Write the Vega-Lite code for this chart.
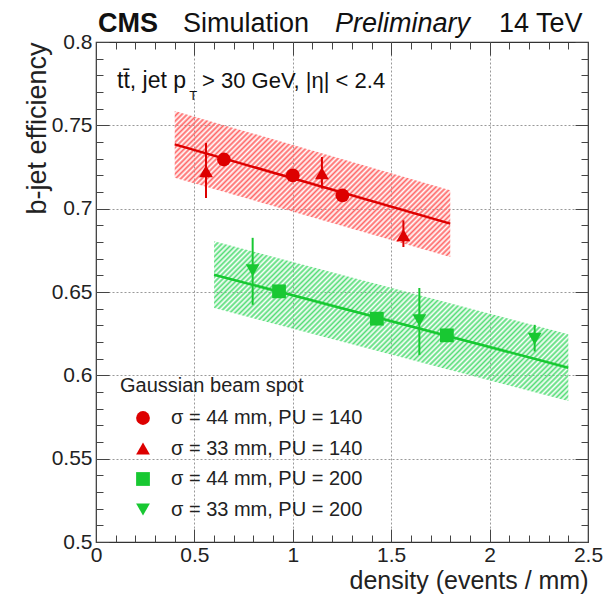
{
"$schema":"https://vega.github.io/schema/vega-lite/v6.json",
"width":492,"height":500,
"autosize":"none",
"padding":{"left":96,"top":42,"right":16,"bottom":53},
"background":"white",
"config":{"font":"Liberation Sans","view":{"stroke":"#333","strokeWidth":1.2},
"axis":{"labelFont":"Liberation Sans","titleFont":"Liberation Sans","labelColor":"#222","titleColor":"#222","tickColor":"#444","tickWidth":1,"labelFontSize":21,"titleFontSize":27,"titleFontWeight":"normal","labelFlush":false,"labelOverlap":false}},
"datasets":{
"pts":[
{"series":"σ = 44 mm, PU = 140","pu":140,"density":0.65,"eff":0.7295},
{"series":"σ = 44 mm, PU = 140","pu":140,"density":1.0,"eff":0.720},
{"series":"σ = 44 mm, PU = 140","pu":140,"density":1.252,"eff":0.708},
{"series":"σ = 33 mm, PU = 140","pu":140,"density":0.559,"eff":0.7225,"lo":0.7064,"hi":0.7394},
{"series":"σ = 33 mm, PU = 140","pu":140,"density":1.148,"eff":0.7212,"lo":0.712,"hi":0.731},
{"series":"σ = 33 mm, PU = 140","pu":140,"density":1.562,"eff":0.684,"lo":0.677,"hi":0.693},
{"series":"σ = 44 mm, PU = 200","pu":200,"density":0.93,"eff":0.6504},
{"series":"σ = 44 mm, PU = 200","pu":200,"density":1.427,"eff":0.634},
{"series":"σ = 44 mm, PU = 200","pu":200,"density":1.783,"eff":0.624},
{"series":"σ = 33 mm, PU = 200","pu":200,"density":0.796,"eff":0.663,"lo":0.6423,"hi":0.6825},
{"series":"σ = 33 mm, PU = 200","pu":200,"density":1.643,"eff":0.633,"lo":0.6122,"hi":0.6524},
{"series":"σ = 33 mm, PU = 200","pu":200,"density":2.229,"eff":0.622,"lo":0.6143,"hi":0.6303}
],
"fits":[
{"fit":"PU140","density":0.4,"eff":0.7386,"lo":0.7186,"hi":0.7586},
{"fit":"PU140","density":1.8,"eff":0.691,"lo":0.671,"hi":0.711},
{"fit":"PU200","density":0.6,"eff":0.6604,"lo":0.6404,"hi":0.6804},
{"fit":"PU200","density":2.4,"eff":0.6046,"lo":0.5846,"hi":0.6246}
]
},
"resolve":{"axis":{"x":"independent","y":"independent"}},
"layer":[
{"data":{"name":"fits"},"transform":[{"filter":"datum.fit === 'PU140'"}],
"mark":{"type":"area","stroke":null,"fillOpacity":1,"fill":{"gradient":"linear","x1":0,"y1":0,"x2":1.1945,"y2":0.633,"stops":[
{"offset":0,"color":"#f66"},{"offset":0.00625,"color":"#f660"},{"offset":0.0125,"color":"#f66"},{"offset":0.01875,"color":"#f660"},{"offset":0.025,"color":"#f66"},{"offset":0.03125,"color":"#f660"},{"offset":0.0375,"color":"#f66"},{"offset":0.04375,"color":"#f660"},{"offset":0.05,"color":"#f66"},{"offset":0.05625,"color":"#f660"},{"offset":0.0625,"color":"#f66"},{"offset":0.06875,"color":"#f660"},{"offset":0.075,"color":"#f66"},{"offset":0.08125,"color":"#f660"},{"offset":0.0875,"color":"#f66"},{"offset":0.09375,"color":"#f660"},
{"offset":0.1,"color":"#f66"},{"offset":0.10625,"color":"#f660"},{"offset":0.1125,"color":"#f66"},{"offset":0.11875,"color":"#f660"},{"offset":0.125,"color":"#f66"},{"offset":0.13125,"color":"#f660"},{"offset":0.1375,"color":"#f66"},{"offset":0.14375,"color":"#f660"},{"offset":0.15,"color":"#f66"},{"offset":0.15625,"color":"#f660"},{"offset":0.1625,"color":"#f66"},{"offset":0.16875,"color":"#f660"},{"offset":0.175,"color":"#f66"},{"offset":0.18125,"color":"#f660"},{"offset":0.1875,"color":"#f66"},{"offset":0.19375,"color":"#f660"},
{"offset":0.2,"color":"#f66"},{"offset":0.20625,"color":"#f660"},{"offset":0.2125,"color":"#f66"},{"offset":0.21875,"color":"#f660"},{"offset":0.225,"color":"#f66"},{"offset":0.23125,"color":"#f660"},{"offset":0.2375,"color":"#f66"},{"offset":0.24375,"color":"#f660"},{"offset":0.25,"color":"#f66"},{"offset":0.25625,"color":"#f660"},{"offset":0.2625,"color":"#f66"},{"offset":0.26875,"color":"#f660"},{"offset":0.275,"color":"#f66"},{"offset":0.28125,"color":"#f660"},{"offset":0.2875,"color":"#f66"},{"offset":0.29375,"color":"#f660"},
{"offset":0.3,"color":"#f66"},{"offset":0.30625,"color":"#f660"},{"offset":0.3125,"color":"#f66"},{"offset":0.31875,"color":"#f660"},{"offset":0.325,"color":"#f66"},{"offset":0.33125,"color":"#f660"},{"offset":0.3375,"color":"#f66"},{"offset":0.34375,"color":"#f660"},{"offset":0.35,"color":"#f66"},{"offset":0.35625,"color":"#f660"},{"offset":0.3625,"color":"#f66"},{"offset":0.36875,"color":"#f660"},{"offset":0.375,"color":"#f66"},{"offset":0.38125,"color":"#f660"},{"offset":0.3875,"color":"#f66"},{"offset":0.39375,"color":"#f660"},
{"offset":0.4,"color":"#f66"},{"offset":0.40625,"color":"#f660"},{"offset":0.4125,"color":"#f66"},{"offset":0.41875,"color":"#f660"},{"offset":0.425,"color":"#f66"},{"offset":0.43125,"color":"#f660"},{"offset":0.4375,"color":"#f66"},{"offset":0.44375,"color":"#f660"},{"offset":0.45,"color":"#f66"},{"offset":0.45625,"color":"#f660"},{"offset":0.4625,"color":"#f66"},{"offset":0.46875,"color":"#f660"},{"offset":0.475,"color":"#f66"},{"offset":0.48125,"color":"#f660"},{"offset":0.4875,"color":"#f66"},{"offset":0.49375,"color":"#f660"},
{"offset":0.5,"color":"#f66"},{"offset":0.50625,"color":"#f660"},{"offset":0.5125,"color":"#f66"},{"offset":0.51875,"color":"#f660"},{"offset":0.525,"color":"#f66"},{"offset":0.53125,"color":"#f660"},{"offset":0.5375,"color":"#f66"},{"offset":0.54375,"color":"#f660"},{"offset":0.55,"color":"#f66"},{"offset":0.55625,"color":"#f660"},{"offset":0.5625,"color":"#f66"},{"offset":0.56875,"color":"#f660"},{"offset":0.575,"color":"#f66"},{"offset":0.58125,"color":"#f660"},{"offset":0.5875,"color":"#f66"},{"offset":0.59375,"color":"#f660"},
{"offset":0.6,"color":"#f66"},{"offset":0.60625,"color":"#f660"},{"offset":0.6125,"color":"#f66"},{"offset":0.61875,"color":"#f660"},{"offset":0.625,"color":"#f66"},{"offset":0.63125,"color":"#f660"},{"offset":0.6375,"color":"#f66"},{"offset":0.64375,"color":"#f660"},{"offset":0.65,"color":"#f66"},{"offset":0.65625,"color":"#f660"},{"offset":0.6625,"color":"#f66"},{"offset":0.66875,"color":"#f660"},{"offset":0.675,"color":"#f66"},{"offset":0.68125,"color":"#f660"},{"offset":0.6875,"color":"#f66"},{"offset":0.69375,"color":"#f660"},
{"offset":0.7,"color":"#f66"},{"offset":0.70625,"color":"#f660"},{"offset":0.7125,"color":"#f66"},{"offset":0.71875,"color":"#f660"},{"offset":0.725,"color":"#f66"},{"offset":0.73125,"color":"#f660"},{"offset":0.7375,"color":"#f66"},{"offset":0.74375,"color":"#f660"},{"offset":0.75,"color":"#f66"},{"offset":0.75625,"color":"#f660"},{"offset":0.7625,"color":"#f66"},{"offset":0.76875,"color":"#f660"},{"offset":0.775,"color":"#f66"},{"offset":0.78125,"color":"#f660"},{"offset":0.7875,"color":"#f66"},{"offset":0.79375,"color":"#f660"},
{"offset":0.8,"color":"#f66"},{"offset":0.80625,"color":"#f660"},{"offset":0.8125,"color":"#f66"},{"offset":0.81875,"color":"#f660"},{"offset":0.825,"color":"#f66"},{"offset":0.83125,"color":"#f660"},{"offset":0.8375,"color":"#f66"},{"offset":0.84375,"color":"#f660"},{"offset":0.85,"color":"#f66"},{"offset":0.85625,"color":"#f660"},{"offset":0.8625,"color":"#f66"},{"offset":0.86875,"color":"#f660"},{"offset":0.875,"color":"#f66"},{"offset":0.88125,"color":"#f660"},{"offset":0.8875,"color":"#f66"},{"offset":0.89375,"color":"#f660"},
{"offset":0.9,"color":"#f66"},{"offset":0.90625,"color":"#f660"},{"offset":0.9125,"color":"#f66"},{"offset":0.91875,"color":"#f660"},{"offset":0.925,"color":"#f66"},{"offset":0.93125,"color":"#f660"},{"offset":0.9375,"color":"#f66"},{"offset":0.94375,"color":"#f660"},{"offset":0.95,"color":"#f66"},{"offset":0.95625,"color":"#f660"},{"offset":0.9625,"color":"#f66"},{"offset":0.96875,"color":"#f660"},{"offset":0.975,"color":"#f66"},{"offset":0.98125,"color":"#f660"},{"offset":0.9875,"color":"#f66"},{"offset":0.99375,"color":"#f660"},
{"offset":1,"color":"#f66"}]}},
"encoding":{
"x":{"field":"density","type":"quantitative","scale":{"domain":[0,2.5],"nice":false,"zero":false},"axis":{"orient":"bottom","values":[0,0.5,1,1.5,2,2.5],"format":"~g","ticks":false,"domain":false,"grid":false,"labelPadding":2,"title":"density (events / mm)","titleFontSize":25,"titleAnchor":"end","titlePadding":3}},
"y":{"field":"lo","type":"quantitative","scale":{"domain":[0.5,0.8],"nice":false,"zero":false},"axis":{"orient":"left","values":[0.5,0.55,0.6,0.65,0.7,0.75,0.8],"format":"~g","ticks":false,"domain":false,"grid":false,"labelPadding":4,"title":"b-jet efficiency","titleAnchor":"end","titlePadding":0}},
"y2":{"field":"hi"}}},
{"data":{"name":"fits"},"transform":[{"filter":"datum.fit === 'PU200'"}],
"mark":{"type":"area","stroke":null,"fillOpacity":1,"fill":{"gradient":"linear","x1":0,"y1":0,"x2":1.2058,"y2":0.5438,"stops":[
{"offset":0,"color":"#5d7"},{"offset":0.005,"color":"#5d70"},{"offset":0.01,"color":"#5d7"},{"offset":0.015,"color":"#5d70"},{"offset":0.02,"color":"#5d7"},{"offset":0.025,"color":"#5d70"},{"offset":0.03,"color":"#5d7"},{"offset":0.035,"color":"#5d70"},{"offset":0.04,"color":"#5d7"},{"offset":0.045,"color":"#5d70"},{"offset":0.05,"color":"#5d7"},{"offset":0.055,"color":"#5d70"},{"offset":0.06,"color":"#5d7"},{"offset":0.065,"color":"#5d70"},{"offset":0.07,"color":"#5d7"},{"offset":0.075,"color":"#5d70"},{"offset":0.08,"color":"#5d7"},{"offset":0.085,"color":"#5d70"},{"offset":0.09,"color":"#5d7"},{"offset":0.095,"color":"#5d70"},
{"offset":0.1,"color":"#5d7"},{"offset":0.105,"color":"#5d70"},{"offset":0.11,"color":"#5d7"},{"offset":0.115,"color":"#5d70"},{"offset":0.12,"color":"#5d7"},{"offset":0.125,"color":"#5d70"},{"offset":0.13,"color":"#5d7"},{"offset":0.135,"color":"#5d70"},{"offset":0.14,"color":"#5d7"},{"offset":0.145,"color":"#5d70"},{"offset":0.15,"color":"#5d7"},{"offset":0.155,"color":"#5d70"},{"offset":0.16,"color":"#5d7"},{"offset":0.165,"color":"#5d70"},{"offset":0.17,"color":"#5d7"},{"offset":0.175,"color":"#5d70"},{"offset":0.18,"color":"#5d7"},{"offset":0.185,"color":"#5d70"},{"offset":0.19,"color":"#5d7"},{"offset":0.195,"color":"#5d70"},
{"offset":0.2,"color":"#5d7"},{"offset":0.205,"color":"#5d70"},{"offset":0.21,"color":"#5d7"},{"offset":0.215,"color":"#5d70"},{"offset":0.22,"color":"#5d7"},{"offset":0.225,"color":"#5d70"},{"offset":0.23,"color":"#5d7"},{"offset":0.235,"color":"#5d70"},{"offset":0.24,"color":"#5d7"},{"offset":0.245,"color":"#5d70"},{"offset":0.25,"color":"#5d7"},{"offset":0.255,"color":"#5d70"},{"offset":0.26,"color":"#5d7"},{"offset":0.265,"color":"#5d70"},{"offset":0.27,"color":"#5d7"},{"offset":0.275,"color":"#5d70"},{"offset":0.28,"color":"#5d7"},{"offset":0.285,"color":"#5d70"},{"offset":0.29,"color":"#5d7"},{"offset":0.295,"color":"#5d70"},
{"offset":0.3,"color":"#5d7"},{"offset":0.305,"color":"#5d70"},{"offset":0.31,"color":"#5d7"},{"offset":0.315,"color":"#5d70"},{"offset":0.32,"color":"#5d7"},{"offset":0.325,"color":"#5d70"},{"offset":0.33,"color":"#5d7"},{"offset":0.335,"color":"#5d70"},{"offset":0.34,"color":"#5d7"},{"offset":0.345,"color":"#5d70"},{"offset":0.35,"color":"#5d7"},{"offset":0.355,"color":"#5d70"},{"offset":0.36,"color":"#5d7"},{"offset":0.365,"color":"#5d70"},{"offset":0.37,"color":"#5d7"},{"offset":0.375,"color":"#5d70"},{"offset":0.38,"color":"#5d7"},{"offset":0.385,"color":"#5d70"},{"offset":0.39,"color":"#5d7"},{"offset":0.395,"color":"#5d70"},
{"offset":0.4,"color":"#5d7"},{"offset":0.405,"color":"#5d70"},{"offset":0.41,"color":"#5d7"},{"offset":0.415,"color":"#5d70"},{"offset":0.42,"color":"#5d7"},{"offset":0.425,"color":"#5d70"},{"offset":0.43,"color":"#5d7"},{"offset":0.435,"color":"#5d70"},{"offset":0.44,"color":"#5d7"},{"offset":0.445,"color":"#5d70"},{"offset":0.45,"color":"#5d7"},{"offset":0.455,"color":"#5d70"},{"offset":0.46,"color":"#5d7"},{"offset":0.465,"color":"#5d70"},{"offset":0.47,"color":"#5d7"},{"offset":0.475,"color":"#5d70"},{"offset":0.48,"color":"#5d7"},{"offset":0.485,"color":"#5d70"},{"offset":0.49,"color":"#5d7"},{"offset":0.495,"color":"#5d70"},
{"offset":0.5,"color":"#5d7"},{"offset":0.505,"color":"#5d70"},{"offset":0.51,"color":"#5d7"},{"offset":0.515,"color":"#5d70"},{"offset":0.52,"color":"#5d7"},{"offset":0.525,"color":"#5d70"},{"offset":0.53,"color":"#5d7"},{"offset":0.535,"color":"#5d70"},{"offset":0.54,"color":"#5d7"},{"offset":0.545,"color":"#5d70"},{"offset":0.55,"color":"#5d7"},{"offset":0.555,"color":"#5d70"},{"offset":0.56,"color":"#5d7"},{"offset":0.565,"color":"#5d70"},{"offset":0.57,"color":"#5d7"},{"offset":0.575,"color":"#5d70"},{"offset":0.58,"color":"#5d7"},{"offset":0.585,"color":"#5d70"},{"offset":0.59,"color":"#5d7"},{"offset":0.595,"color":"#5d70"},
{"offset":0.6,"color":"#5d7"},{"offset":0.605,"color":"#5d70"},{"offset":0.61,"color":"#5d7"},{"offset":0.615,"color":"#5d70"},{"offset":0.62,"color":"#5d7"},{"offset":0.625,"color":"#5d70"},{"offset":0.63,"color":"#5d7"},{"offset":0.635,"color":"#5d70"},{"offset":0.64,"color":"#5d7"},{"offset":0.645,"color":"#5d70"},{"offset":0.65,"color":"#5d7"},{"offset":0.655,"color":"#5d70"},{"offset":0.66,"color":"#5d7"},{"offset":0.665,"color":"#5d70"},{"offset":0.67,"color":"#5d7"},{"offset":0.675,"color":"#5d70"},{"offset":0.68,"color":"#5d7"},{"offset":0.685,"color":"#5d70"},{"offset":0.69,"color":"#5d7"},{"offset":0.695,"color":"#5d70"},
{"offset":0.7,"color":"#5d7"},{"offset":0.705,"color":"#5d70"},{"offset":0.71,"color":"#5d7"},{"offset":0.715,"color":"#5d70"},{"offset":0.72,"color":"#5d7"},{"offset":0.725,"color":"#5d70"},{"offset":0.73,"color":"#5d7"},{"offset":0.735,"color":"#5d70"},{"offset":0.74,"color":"#5d7"},{"offset":0.745,"color":"#5d70"},{"offset":0.75,"color":"#5d7"},{"offset":0.755,"color":"#5d70"},{"offset":0.76,"color":"#5d7"},{"offset":0.765,"color":"#5d70"},{"offset":0.77,"color":"#5d7"},{"offset":0.775,"color":"#5d70"},{"offset":0.78,"color":"#5d7"},{"offset":0.785,"color":"#5d70"},{"offset":0.79,"color":"#5d7"},{"offset":0.795,"color":"#5d70"},
{"offset":0.8,"color":"#5d7"},{"offset":0.805,"color":"#5d70"},{"offset":0.81,"color":"#5d7"},{"offset":0.815,"color":"#5d70"},{"offset":0.82,"color":"#5d7"},{"offset":0.825,"color":"#5d70"},{"offset":0.83,"color":"#5d7"},{"offset":0.835,"color":"#5d70"},{"offset":0.84,"color":"#5d7"},{"offset":0.845,"color":"#5d70"},{"offset":0.85,"color":"#5d7"},{"offset":0.855,"color":"#5d70"},{"offset":0.86,"color":"#5d7"},{"offset":0.865,"color":"#5d70"},{"offset":0.87,"color":"#5d7"},{"offset":0.875,"color":"#5d70"},{"offset":0.88,"color":"#5d7"},{"offset":0.885,"color":"#5d70"},{"offset":0.89,"color":"#5d7"},{"offset":0.895,"color":"#5d70"},
{"offset":0.9,"color":"#5d7"},{"offset":0.905,"color":"#5d70"},{"offset":0.91,"color":"#5d7"},{"offset":0.915,"color":"#5d70"},{"offset":0.92,"color":"#5d7"},{"offset":0.925,"color":"#5d70"},{"offset":0.93,"color":"#5d7"},{"offset":0.935,"color":"#5d70"},{"offset":0.94,"color":"#5d7"},{"offset":0.945,"color":"#5d70"},{"offset":0.95,"color":"#5d7"},{"offset":0.955,"color":"#5d70"},{"offset":0.96,"color":"#5d7"},{"offset":0.965,"color":"#5d70"},{"offset":0.97,"color":"#5d7"},{"offset":0.975,"color":"#5d70"},{"offset":0.98,"color":"#5d7"},{"offset":0.985,"color":"#5d70"},{"offset":0.99,"color":"#5d7"},{"offset":0.995,"color":"#5d70"},
{"offset":1,"color":"#5d7"}]}},
"encoding":{
"x":{"field":"density","type":"quantitative","scale":{"domain":[0,2.5],"nice":false,"zero":false},"axis":{"orient":"bottom","values":[0,0.5,1,1.5,2,2.5],"tickSize":-13,"labels":false,"domain":false,"grid":false,"title":null}},
"y":{"field":"lo","type":"quantitative","scale":{"domain":[0.5,0.8],"nice":false,"zero":false},"axis":{"orient":"left","values":[0.5,0.55,0.6,0.65,0.7,0.75,0.8],"tickSize":-13,"labels":false,"domain":false,"grid":false,"title":null}},
"y2":{"field":"hi"}}},
{"data":{"name":"fits"},"transform":[{"filter":"datum.fit === 'PU140'"}],
"mark":{"type":"line","color":"#dd0000","strokeWidth":2.5},
"encoding":{
"x":{"field":"density","type":"quantitative","scale":{"domain":[0,2.5],"nice":false,"zero":false},"axis":{"orient":"bottom","values":[0,0.1,0.2,0.3,0.4,0.5,0.6,0.7,0.8,0.9,1,1.1,1.2,1.3,1.4,1.5,1.6,1.7,1.8,1.9,2,2.1,2.2,2.3,2.4,2.5],"tickSize":-7,"labels":false,"domain":false,"grid":false,"title":null}},
"y":{"field":"eff","type":"quantitative","scale":{"domain":[0.5,0.8],"nice":false,"zero":false},"axis":{"orient":"left","values":[0.5,0.51,0.52,0.53,0.54,0.55,0.56,0.57,0.58,0.59,0.6,0.61,0.62,0.63,0.64,0.65,0.66,0.67,0.68,0.69,0.7,0.71,0.72,0.73,0.74,0.75,0.76,0.77,0.78,0.79,0.8],"tickSize":-7,"labels":false,"domain":false,"grid":false,"title":null}}}},
{"data":{"name":"fits"},"transform":[{"filter":"datum.fit === 'PU200'"}],
"mark":{"type":"line","color":"#18c832","strokeWidth":2.5},
"encoding":{
"x":{"field":"density","type":"quantitative","scale":{"domain":[0,2.5],"nice":false,"zero":false},"axis":{"orient":"top","values":[0,0.5,1,1.5,2,2.5],"tickSize":-13,"labels":false,"domain":false,"grid":false,"title":null}},
"y":{"field":"eff","type":"quantitative","scale":{"domain":[0.5,0.8],"nice":false,"zero":false},"axis":{"orient":"right","values":[0.5,0.55,0.6,0.65,0.7,0.75,0.8],"tickSize":-13,"labels":false,"domain":false,"grid":false,"title":null}}}},
{"data":{"name":"pts"},"transform":[{"filter":"datum.pu === 140 && isValid(datum.lo)"}],
"mark":{"type":"rule","color":"#dd0000","strokeWidth":2},
"encoding":{
"x":{"field":"density","type":"quantitative","scale":{"domain":[0,2.5],"nice":false,"zero":false},"axis":{"orient":"top","values":[0,0.1,0.2,0.3,0.4,0.5,0.6,0.7,0.8,0.9,1,1.1,1.2,1.3,1.4,1.5,1.6,1.7,1.8,1.9,2,2.1,2.2,2.3,2.4,2.5],"tickSize":-7,"labels":false,"domain":false,"grid":false,"title":null}},
"y":{"field":"lo","type":"quantitative","scale":{"domain":[0.5,0.8],"nice":false,"zero":false},"axis":{"orient":"right","values":[0.5,0.51,0.52,0.53,0.54,0.55,0.56,0.57,0.58,0.59,0.6,0.61,0.62,0.63,0.64,0.65,0.66,0.67,0.68,0.69,0.7,0.71,0.72,0.73,0.74,0.75,0.76,0.77,0.78,0.79,0.8],"tickSize":-7,"labels":false,"domain":false,"grid":false,"title":null}},
"y2":{"field":"hi"}}},
{"data":{"name":"pts"},"transform":[{"filter":"datum.pu === 200 && isValid(datum.lo)"}],
"mark":{"type":"rule","color":"#18c832","strokeWidth":2},
"encoding":{
"x":{"field":"density","type":"quantitative","scale":{"domain":[0,2.5],"nice":false,"zero":false},"axis":{"orient":"bottom","values":[0.5,1,1.5,2],"ticks":false,"labels":false,"domain":false,"grid":true,"gridColor":"#999","gridDash":[2,2],"gridWidth":1,"title":null}},
"y":{"field":"lo","type":"quantitative","scale":{"domain":[0.5,0.8],"nice":false,"zero":false},"axis":{"orient":"left","values":[0.55,0.6,0.65,0.7,0.75],"ticks":false,"labels":false,"domain":false,"grid":true,"gridColor":"#999","gridDash":[2,2],"gridWidth":1,"title":null}},
"y2":{"field":"hi"}}},
{"data":{"name":"pts"},
"mark":{"type":"point","filled":true,"size":190,"opacity":1,"strokeWidth":0},
"encoding":{
"x":{"field":"density","type":"quantitative","scale":{"domain":[0,2.5],"nice":false,"zero":false},"axis":null},
"y":{"field":"eff","type":"quantitative","scale":{"domain":[0.5,0.8],"nice":false,"zero":false},"axis":null},
"color":{"field":"series","type":"nominal","scale":{"domain":["σ = 44 mm, PU = 140","σ = 33 mm, PU = 140","σ = 44 mm, PU = 200","σ = 33 mm, PU = 200"],"range":["#dd0000","#dd0000","#18c832","#18c832"]},
"legend":{"title":"Gaussian beam spot","orient":"none","legendX":24,"legendY":334,"padding":0,"titleFont":"Liberation Sans","titleFontSize":20,"titleFontWeight":"normal","titleColor":"#222","titlePadding":12,"titleLimit":400,"labelFont":"Liberation Sans","labelFontSize":20,"labelColor":"#222","labelLimit":400,"symbolSize":190,"symbolOffset":13,"labelOffset":18,"rowPadding":10.5,"symbolStrokeWidth":0}},
"shape":{"field":"series","type":"nominal","scale":{"domain":["σ = 44 mm, PU = 140","σ = 33 mm, PU = 140","σ = 44 mm, PU = 200","σ = 33 mm, PU = 200"],"range":["circle","triangle-up","square","triangle-down"]},
"legend":{"title":"Gaussian beam spot","orient":"none","legendX":24,"legendY":334,"padding":0,"titleFont":"Liberation Sans","titleFontSize":20,"titleFontWeight":"normal","titleColor":"#222","titlePadding":12,"titleLimit":400,"labelFont":"Liberation Sans","labelFontSize":20,"labelColor":"#222","labelLimit":400,"symbolSize":190,"symbolOffset":13,"labelOffset":18,"rowPadding":10.5,"symbolStrokeWidth":0}}}},
{"data":{"values":[{}]},"mark":{"type":"text","text":"CMS","font":"Liberation Sans","fontSize":27,"fontWeight":"bold","align":"left","baseline":"alphabetic","dy":-10,"color":"#111"},
"encoding":{"x":{"datum":0.01,"type":"quantitative","scale":{"domain":[0,2.5],"nice":false,"zero":false},"axis":null},"y":{"datum":0.8,"type":"quantitative","scale":{"domain":[0.5,0.8],"nice":false,"zero":false},"axis":null}}},
{"data":{"values":[{}]},"mark":{"type":"text","text":"Simulation","font":"Liberation Sans","fontSize":27,"align":"left","baseline":"alphabetic","dy":-10,"color":"#111"},
"encoding":{"x":{"datum":0.442,"type":"quantitative","scale":{"domain":[0,2.5],"nice":false,"zero":false},"axis":null},"y":{"datum":0.8,"type":"quantitative","scale":{"domain":[0.5,0.8],"nice":false,"zero":false},"axis":null}}},
{"data":{"values":[{}]},"mark":{"type":"text","text":"Preliminary","font":"Liberation Sans","fontSize":27,"fontStyle":"italic","align":"left","baseline":"alphabetic","dy":-10,"color":"#111"},
"encoding":{"x":{"datum":1.214,"type":"quantitative","scale":{"domain":[0,2.5],"nice":false,"zero":false},"axis":null},"y":{"datum":0.8,"type":"quantitative","scale":{"domain":[0.5,0.8],"nice":false,"zero":false},"axis":null}}},
{"data":{"values":[{}]},"mark":{"type":"text","text":"14 TeV","font":"Liberation Sans","fontSize":27,"align":"left","baseline":"alphabetic","dy":-10,"color":"#111"},
"encoding":{"x":{"datum":2.048,"type":"quantitative","scale":{"domain":[0,2.5],"nice":false,"zero":false},"axis":null},"y":{"datum":0.8,"type":"quantitative","scale":{"domain":[0.5,0.8],"nice":false,"zero":false},"axis":null}}},
{"data":{"values":[{}]},"mark":{"type":"text","text":"tt̄, jet p","font":"Liberation Sans","fontSize":23,"align":"left","baseline":"alphabetic","color":"#111"},
"encoding":{"x":{"datum":0.107,"type":"quantitative","scale":{"domain":[0,2.5],"nice":false,"zero":false},"axis":null},"y":{"datum":0.7724,"type":"quantitative","scale":{"domain":[0.5,0.8],"nice":false,"zero":false},"axis":null}}},
{"data":{"values":[{}]},"mark":{"type":"text","text":"T","font":"Liberation Sans","fontSize":13,"align":"left","baseline":"alphabetic","color":"#111"},
"encoding":{"x":{"datum":0.474,"type":"quantitative","scale":{"domain":[0,2.5],"nice":false,"zero":false},"axis":null},"y":{"datum":0.7652,"type":"quantitative","scale":{"domain":[0.5,0.8],"nice":false,"zero":false},"axis":null}}},
{"data":{"values":[{}]},"mark":{"type":"text","text":"> 30 GeV, |η| < 2.4","font":"Liberation Sans","fontSize":22,"align":"left","baseline":"alphabetic","color":"#111"},
"encoding":{"x":{"datum":0.539,"type":"quantitative","scale":{"domain":[0,2.5],"nice":false,"zero":false},"axis":null},"y":{"datum":0.7724,"type":"quantitative","scale":{"domain":[0.5,0.8],"nice":false,"zero":false},"axis":null}}}
]
}
